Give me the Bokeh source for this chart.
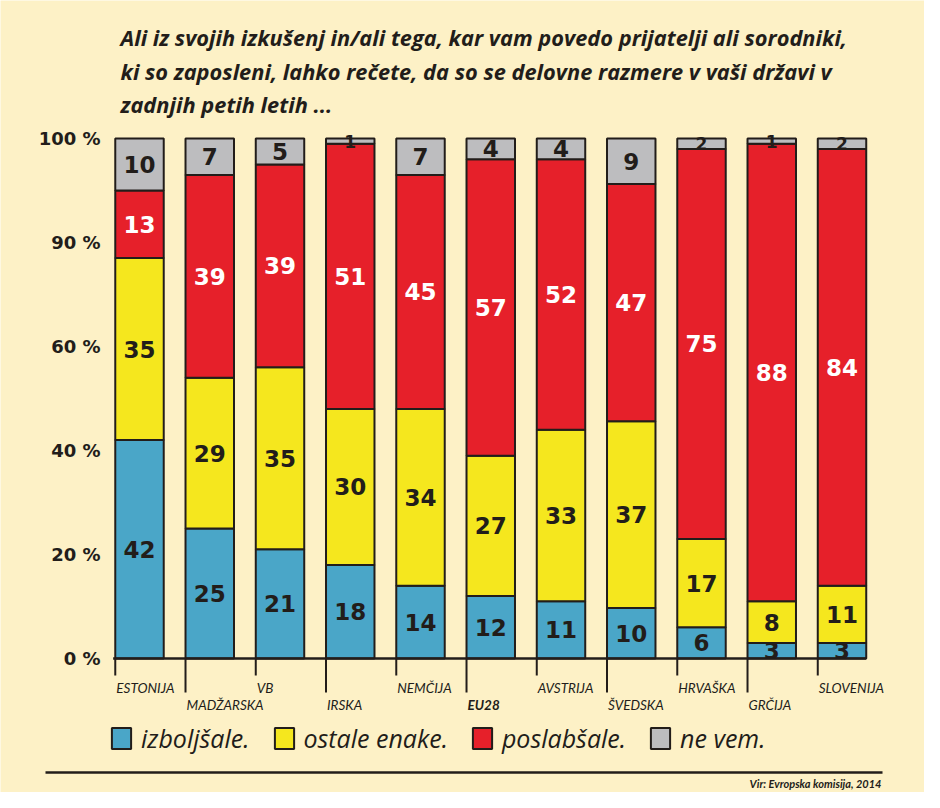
from bokeh.plotting import figure
from bokeh.models import Range1d, LinearAxis, FixedTicker, Legend, LegendItem, ColumnDataSource
from bokeh.embed import file_html
from bokeh.resources import INLINE
from bokeh.core.properties import value

# ---------------- data ----------------
countries = ["ESTONIJA", "MADŽARSKA", "VB", "IRSKA", "NEMČIJA", "EU28",
             "AVSTRIJA", "ŠVEDSKA", "HRVAŠKA", "GRČIJA", "SLOVENIJA"]
izboljsale = [42, 25, 21, 18, 14, 12, 11, 10, 6, 3, 3]
ostale_enake = [35, 29, 35, 30, 34, 27, 33, 37, 17, 8, 11]
poslabsale = [13, 39, 39, 51, 45, 57, 52, 47, 75, 88, 84]
ne_vem = [10, 7, 5, 1, 7, 4, 4, 9, 2, 1, 2]
series_names = ["izboljšale.", "ostale enake.", "poslabšale.", "ne vem."]
y_ticks = [0, 20, 40, 60, 80, 100]
y_tick_labels = ["0 %", "20 %", "40 %", "60 %", "90 %", "100 %"]
title_lines = [
    "Ali iz svojih izkušenj in/ali tega, kar vam povedo prijatelji ali sorodniki,",
    "ki so zaposleni, lahko rečete, da so se delovne razmere v vaši državi v",
    "zadnjih petih letih ...",
]
source_note = "Vir: Evropska komisija, 2014"

# ---------------- style ----------------
BG = "#fdf1c6"
INK = "#221d1a"
COLORS = ["#4aa6c8", "#f5e71e", "#e6202a", "#bdbdbf"]
LABEL_COLORS = [INK, INK, "white", INK]
BAR_W = 0.69
W, H = 924, 792
PX_X = 70.25          # pixels per category
PX_Y = 5.2            # pixels per percent
X0 = -139 / PX_X      # data x at left edge of figure
Y_TOP = 100 + 138 / PX_Y


def dx(px):
    return px / PX_X + X0


def dy(py):
    return Y_TOP - py / PX_Y


series = [izboljsale, ostale_enake, poslabsale, ne_vem]
keys = ["s0", "s1", "s2", "s3"]
n = len(countries)
totals = [sum(s[i] for s in series) for i in range(n)]
data = {"x": list(range(n))}
for k, s in zip(keys, series):
    data[k] = [s[i] * 100.0 / totals[i] for i in range(n)]
src = ColumnDataSource(data)

p = figure(width=W, height=H, output_backend="svg", toolbar_location=None,
           x_axis_type=None, y_axis_type=None,
           x_range=Range1d(X0, dx(W)), y_range=Range1d(dy(H), Y_TOP),
           min_border=0, min_border_left=0, min_border_right=0,
           min_border_top=0, min_border_bottom=0)
p.background_fill_color = BG
p.border_fill_color = BG
p.outline_line_color = None

renderers = p.vbar_stack(keys, x="x", width=BAR_W, source=src,
                         fill_color=COLORS, line_color=INK, line_width=2)

# segment value labels
lx, ly, lt, lc, ls = [], [], [], [], []
for i in range(n):
    bottom = 0.0
    for j, k in enumerate(keys):
        h = data[k][i]
        lx.append(i)
        ly.append(bottom + h / 2)
        lt.append(str(series[j][i]))
        lc.append(LABEL_COLORS[j])
        ls.append("23px" if series[j][i] > 2 else "17px")
        bottom += h
p.text(x=lx, y=ly, text=lt, text_color=lc, text_font_size=ls,
       text_font=value("DejaVu Sans"), text_font_style="bold",
       text_align="center", text_baseline="middle")

# x axis line and ticks
lefts = [i - BAR_W / 2 for i in range(n)]
p.segment(x0=[lefts[0] - 0.03], y0=[0], x1=[n - 1 + BAR_W / 2], y1=[0],
          line_color=INK, line_width=2.5)
tick_len = [(17 if i % 2 == 0 else 34) / PX_Y for i in range(n)]
p.segment(x0=lefts, y0=[0] * n, x1=lefts, y1=[-t for t in tick_len],
          line_color=INK, line_width=2)
lab_y = [dy(687) if i % 2 == 0 else dy(704) for i in range(n)]
lab_style = ["bold italic" if c == "EU28" else "italic" for c in countries]
p.text(x=lefts, y=lab_y, text=countries, text_font_style=lab_style,
       text_font=value("Lato"), text_font_size="13.5px", text_color=INK,
       text_align="left", text_baseline="middle", x_offset=1)

# y axis
yaxis = LinearAxis(fixed_location=dx(112), ticker=FixedTicker(ticks=y_ticks),
                   major_label_overrides=dict(zip(y_ticks, y_tick_labels)),
                   axis_line_color=None, major_tick_line_color=None,
                   minor_tick_line_color=None, major_label_standoff=6,
                   major_label_text_font="DejaVu Sans",
                   major_label_text_font_style="bold",
                   major_label_text_font_size="18px",
                   major_label_text_color=INK)
p.add_layout(yaxis, "left")

# title
p.text(x=[dx(120)] * 3, y=[dy(37), dy(71), dy(104)], text=title_lines,
       text_font=value("Open Sans"), text_font_style="bold italic",
       text_font_size="21.8px", text_color=INK,
       text_align="left", text_baseline="middle")

# legend
legend = Legend(items=[LegendItem(label=value(nm), renderers=[r])
                       for nm, r in zip(series_names, renderers)],
                orientation="horizontal", location=(109, H - 755),
                glyph_width=24, glyph_height=26, label_standoff=8, spacing=22,
                padding=0, margin=0, border_line_color=None,
                background_fill_alpha=0,
                label_text_font="Open Sans", label_text_font_style="italic",
                label_text_font_size="25px", label_text_color=INK)
p.add_layout(legend)

# rule and source
p.segment(x0=[dx(45)], y0=[dy(772)], x1=[dx(882)], y1=[dy(772)],
          line_color=INK, line_width=2.5)
p.text(x=[dx(881)], y=[dy(783)], text=[source_note], text_font=value("Lato"),
       text_font_style="bold italic", text_font_size="11px", text_color=INK,
       text_align="right", text_baseline="middle")

open("out.html", "w").write(file_html(p, INLINE))
